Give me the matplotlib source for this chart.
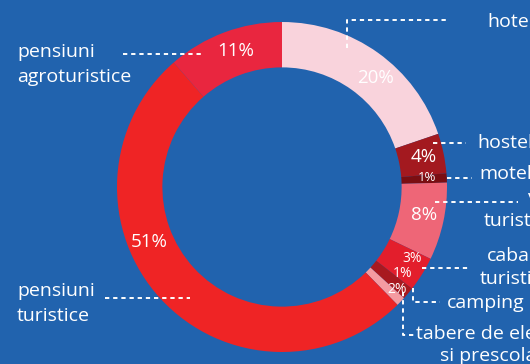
import numpy as np
import matplotlib
matplotlib.use("Agg")
import matplotlib.pyplot as plt

plt.rcParams['font.family'] = ['Open Sans', 'DejaVu Sans']

categories = ["hoteluri", "hosteluri", "moteluri", "vile turistice", "cabane turistice",
              "bungalouri", "camping", "pensiuni turistice", "pensiuni agroturistice"]
shares = [19.8, 3.9, 0.9, 7.6, 3.4, 1.2, 0.9, 51.0, 11.4]
pct_labels = ["20%", "4%", "1%", "8%", "3%", "1%", "2%", "51%", "11%"]
colors = ["#F9D3DC", "#A3191F", "#7A0E12", "#EE6677", "#E31E2C",
          "#A8191F", "#F59BA1", "#EF2425", "#E9263F"]

# label styling
pct_sizes = [13.5, 13.5, 9.5, 13.5, 10, 10, 10, 13.5, 13.5]
pct_nudge = [-5, 0, 0.7, 1, 3, 4.5, 2.3, -20, -1.5]   # degrees
pct_radius = [0.87, 0.88, 0.88, 0.88, 0.9, 0.9, 0.93, 0.87, 0.87]

BG = "#2163AE"
W, H = 530, 364
cx, cy, R = 282, 187, 165   # pixel centre / radius of the donut


def px(x, y):
    # pixel (from top-left) -> data coords
    return (x - cx) / R, (cy - y) / R


fig = plt.figure(figsize=(W / 100, H / 100), dpi=100)
fig.patch.set_facecolor(BG)
ax = fig.add_axes([0, 0, 1, 1])
ax.set_facecolor(BG)

ax.pie(shares, colors=colors, startangle=90, counterclock=False, radius=1.0,
       wedgeprops=dict(width=0.275, linewidth=0))

ax.set_xlim(-cx / R, (W - cx) / R)
ax.set_ylim(-(H - cy) / R, cy / R)
ax.set_aspect("equal")
ax.axis("off")

# percentage labels near the slice middles
total = sum(shares)
start = 90.0
for i, (s, lab) in enumerate(zip(shares, pct_labels)):
    mid = start - s / total * 360 / 2 + pct_nudge[i]
    start -= s / total * 360
    r = pct_radius[i]
    x, y = r * np.cos(np.radians(mid)), r * np.sin(np.radians(mid))
    ax.text(x, y, lab, color="white", fontsize=pct_sizes[i],
            ha="center", va="center")

# leader lines (pixel paths)
leaders = [
    [(347, 48), (347, 20), (447, 20)],
    [(433, 143), (466, 143)],
    [(447, 178), (472, 178)],
    [(435, 202), (518, 202)],
    [(422, 268), (470, 268)],
    [(413, 288), (413, 302), (440, 302)],
    [(403, 292), (403, 335), (415, 335)],
    [(123, 54), (202, 54)],
    [(105, 298), (190, 298)],
]
for path in leaders:
    pts = [px(x, y) for x, y in path]
    xs, ys = zip(*pts)
    ax.plot(xs, ys, color="white", lw=1.4, ls=(0, (2.2, 2.0)), solid_capstyle="butt")

# category labels (left-aligned, pixel positions)
texts = [
    (487, 22, "hoteluri"),
    (477, 143, "hosteluri"),
    (479, 174, "moteluri"),
    (528, 198, "vile"),
    (484, 221, "turistice"),
    (487, 256, "cabane"),
    (480, 279, "turistice"),
    (447, 303, "camping"),
    (416, 334, "tabere de elevi"),
    (440, 356, "si prescolari"),
    (17, 52, "pensiuni"),
    (17, 77, "agroturistice"),
    (17, 291, "pensiuni"),
    (17, 316, "turistice"),
]
for x, y, t in texts:
    xd, yd = px(x, y)
    ax.text(xd, yd, t, color="white", fontsize=14, ha="left", va="center")

fig.savefig("out.png", dpi=100, facecolor=BG)
